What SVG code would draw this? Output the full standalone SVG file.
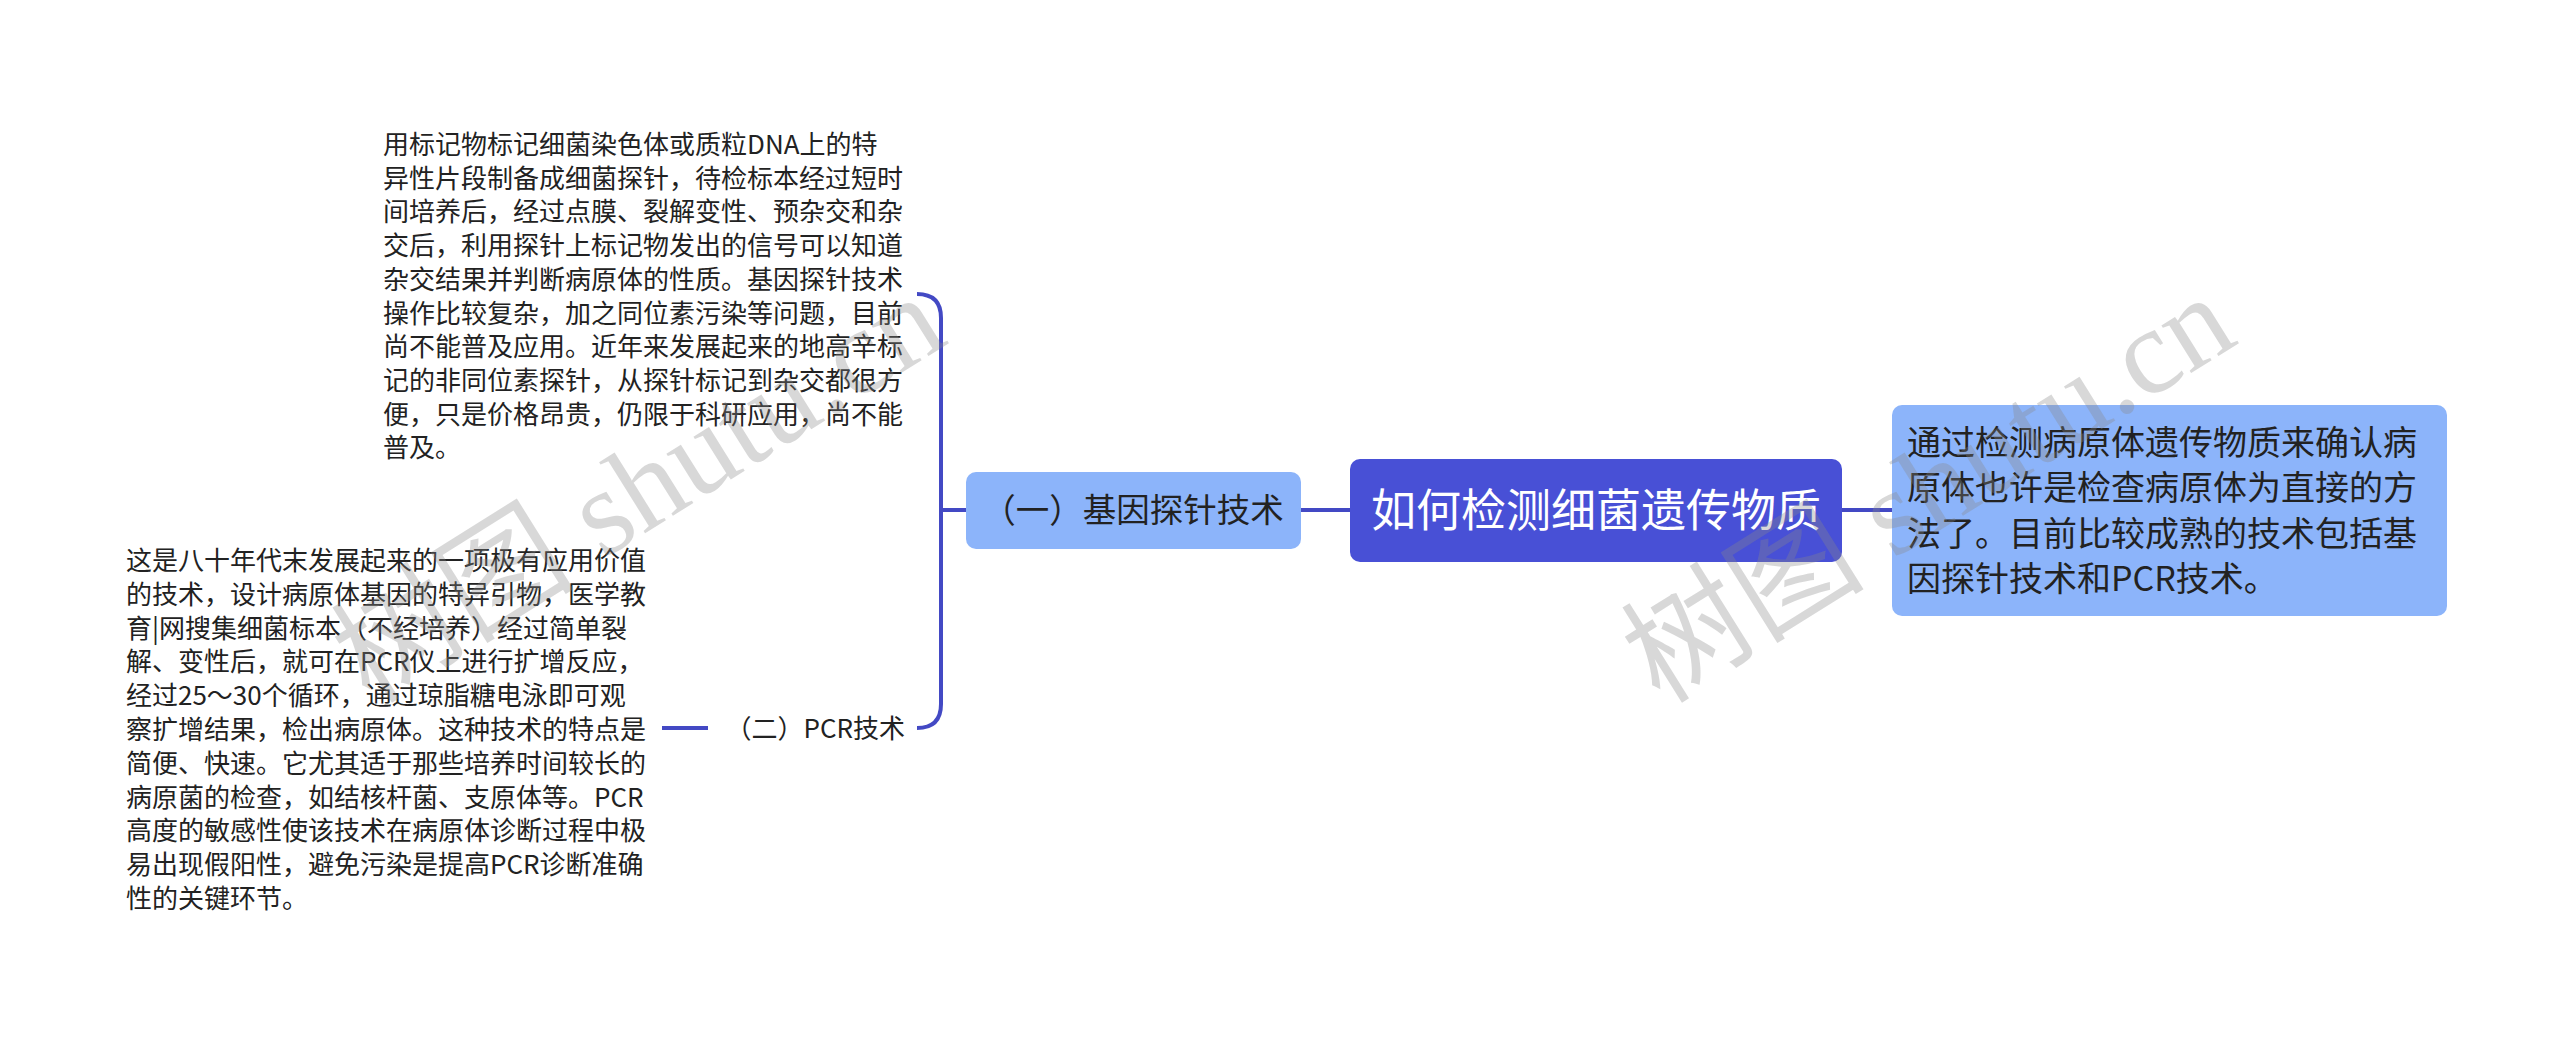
<svg xmlns="http://www.w3.org/2000/svg" width="2560" height="1038" viewBox="0 0 2560 1038">
<style>
.t{font-family:"Noto Sans CJK SC","Noto Sans",sans-serif;fill:#222;}
.b{font-size:26px;}
.c{stroke:#4349c4;stroke-width:4;fill:none;}
.wm{font-family:"Liberation Serif","Noto Sans CJK SC",serif;font-size:122px;fill:#888;fill-opacity:0.33;}
</style>
<rect width="2560" height="1038" fill="#ffffff"/>
<g id="connectors">
<path class="c" d="M1301 510 H1350"/>
<path class="c" d="M1842 510 H1892"/>
<path class="c" d="M917 294 Q941 294 941 318 V704 Q941 728 917 728"/>
<path class="c" d="M941 510 H966"/>
<path class="c" d="M662 728 H708"/>
</g>
<g id="root">
<rect x="1350" y="459" width="492" height="103" rx="10" fill="#4850d6"/>
<text class="t" x="1596" y="527" font-size="45" text-anchor="middle" style="fill:#fff">如何检测细菌遗传物质</text>
</g>
<g id="summary">
<rect x="1892" y="405" width="555" height="211" rx="10" fill="#8cb4fa"/>
<text class="t" font-size="34"><tspan x="1907" y="455">通过检测病原体遗传物质来确认病</tspan><tspan x="1907" y="500">原体也许是检查病原体为直接的方</tspan><tspan x="1907" y="546">法了。目前比较成熟的技术包括基</tspan><tspan x="1907" y="591">因探针技术和PCR技术。</tspan></text>
</g>
<g id="probe">
<rect x="966" y="472" width="335" height="77" rx="10" fill="#8cb4fa"/>
<text class="t" x="1133" y="522" font-size="33.5" text-anchor="middle">（一）基因探针技术</text>
</g>
<g id="probe-detail">
<text class="t b"><tspan x="383" y="154">用标记物标记细菌染色体或质粒DNA上的特</tspan><tspan x="383" y="187.7">异性片段制备成细菌探针，待检标本经过短时</tspan><tspan x="383" y="221.4">间培养后，经过点膜、裂解变性、预杂交和杂</tspan><tspan x="383" y="255.1">交后，利用探针上标记物发出的信号可以知道</tspan><tspan x="383" y="288.8">杂交结果并判断病原体的性质。基因探针技术</tspan><tspan x="383" y="322.5">操作比较复杂，加之同位素污染等问题，目前</tspan><tspan x="383" y="356.2">尚不能普及应用。近年来发展起来的地高辛标</tspan><tspan x="383" y="389.9">记的非同位素探针，从探针标记到杂交都很方</tspan><tspan x="383" y="423.6">便，只是价格昂贵，仍限于科研应用，尚不能</tspan><tspan x="383" y="457.3">普及。</tspan></text>
</g>
<g id="pcr">
<text class="t b" x="905" y="738" text-anchor="end">（二）PCR技术</text>
</g>
<g id="pcr-detail">
<text class="t b"><tspan x="126" y="570">这是八十年代末发展起来的一项极有应用价值</tspan><tspan x="126" y="603.8">的技术，设计病原体基因的特异引物，医学教</tspan><tspan x="126" y="637.6">育|网搜集细菌标本（不经培养）经过简单裂</tspan><tspan x="126" y="671.4">解、变性后，就可在PCR仪上进行扩增反应，</tspan><tspan x="126" y="705.2">经过25～30个循环，通过琼脂糖电泳即可观</tspan><tspan x="126" y="739">察扩增结果，检出病原体。这种技术的特点是</tspan><tspan x="126" y="772.8">简便、快速。它尤其适于那些培养时间较长的</tspan><tspan x="126" y="806.6">病原菌的检查，如结核杆菌、支原体等。PCR</tspan><tspan x="126" y="840.4">高度的敏感性使该技术在病原体诊断过程中极</tspan><tspan x="126" y="874.2">易出现假阳性，避免污染是提高PCR诊断准确</tspan><tspan x="126" y="908">性的关键环节。</tspan></text>
</g>
<g id="watermarks">
<text class="wm" transform="translate(370 705) rotate(-32)">树图 shutu.cn</text>
<text class="wm" transform="translate(1660 705) rotate(-32)">树图 shutu.cn</text>
</g>
</svg>
